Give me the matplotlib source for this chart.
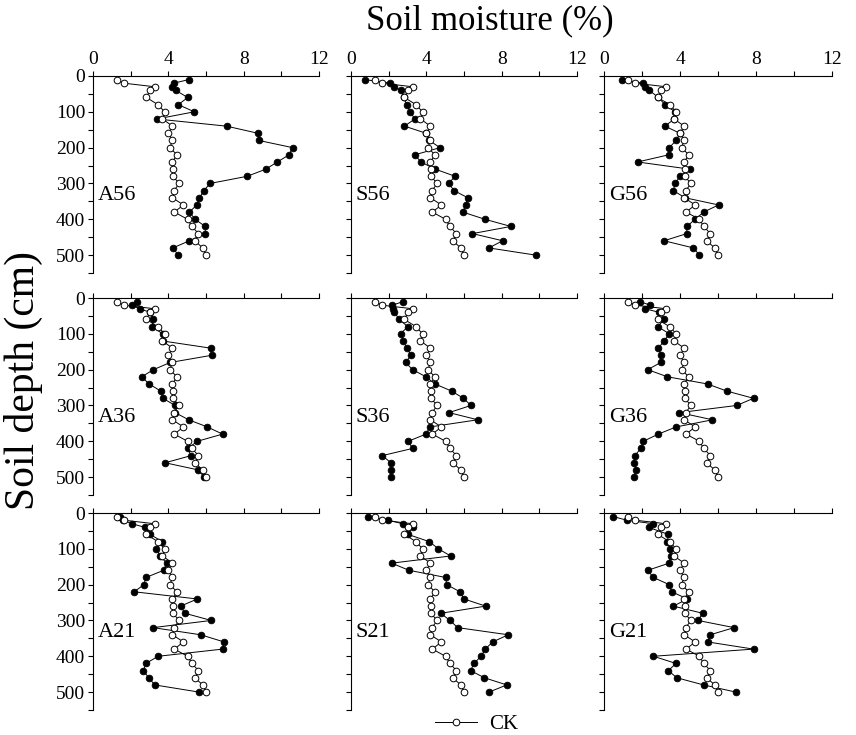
import matplotlib
matplotlib.use("Agg")
import matplotlib.pyplot as plt
from matplotlib.ticker import MultipleLocator
from matplotlib.lines import Line2D

plt.rcParams['font.family'] = ['Liberation Serif', 'DejaVu Serif']

depth = [10, 20, 30, 40, 60, 80, 100, 120, 140, 160, 180, 200, 220, 240,
         260, 280, 300, 320, 340, 360, 380, 400, 420, 440, 460, 480, 500]

ck = [1.28, 1.63, 3.27, 3.02, 2.84, 3.45, 3.80, 3.69, 4.22, 4.00, 4.22, 4.08, 4.46, 4.22,
      4.24, 4.24, 4.58, 4.30, 4.22, 4.80, 4.32, 5.02, 5.25, 5.60, 5.40, 5.83, 5.98]

a56 = [5.08, 4.30, 4.18, 4.39, 5.03, 4.53, 5.38, 3.39, 7.09, 8.77, 8.81, 10.60, 10.41, 9.79,
       9.18, 8.19, 6.21, 5.89, 5.65, 5.51, 5.12, 5.42, 5.96, 5.96, 5.12, 4.24, 4.53]
s56 = [0.74, 2.07, 2.30, 2.64, 2.80, 2.96, 3.14, 3.39, 2.84, 4.00, 4.15, 4.73, 3.39, 3.71,
       4.47, 5.53, 5.18, 5.48, 6.20, 6.08, 5.94, 7.11, 8.49, 6.45, 8.05, 7.32, 9.80]
g56 = [0.93, 2.04, 2.16, 2.39, 2.86, 3.21, 3.74, 3.70, 3.21, 4.00, 3.79, 3.44, 3.41, 1.77,
       4.50, 4.00, 3.74, 3.65, 4.27, 6.03, 5.24, 4.80, 4.36, 4.36, 3.16, 4.71, 5.02]
a36 = [2.33, 2.06, 2.47, 3.04, 3.18, 3.14, 3.70, 3.70, 6.25, 6.30, 4.10, 3.21, 2.59, 2.98,
       3.60, 3.71, 4.36, 4.36, 5.08, 6.07, 6.88, 5.54, 5.03, 5.21, 3.83, 5.59, 5.90]
s36 = [2.78, 2.19, 2.25, 2.30, 2.57, 3.01, 2.64, 2.78, 2.96, 3.19, 2.90, 3.27, 3.98, 4.46,
       5.35, 5.97, 6.37, 5.20, 6.73, 4.19, 3.98, 3.04, 3.27, 1.66, 2.12, 2.12, 2.12]
g36 = [1.90, 2.42, 2.16, 2.90, 3.16, 2.83, 3.44, 3.16, 2.86, 3.00, 2.99, 2.30, 3.34, 5.45,
       6.47, 7.87, 6.99, 3.97, 5.71, 3.79, 2.86, 2.07, 1.93, 1.63, 1.58, 1.69, 1.58]
a21 = [1.44, 1.60, 2.07, 2.75, 3.04, 3.68, 3.37, 3.56, 3.91, 3.75, 2.81, 2.70, 2.19, 5.54,
       4.65, 4.88, 6.28, 3.19, 5.72, 6.96, 6.88, 3.46, 2.81, 2.67, 2.96, 3.28, 5.63]
s21 = [0.88, 1.98, 2.74, 3.27, 3.04, 4.16, 4.64, 5.29, 2.16, 3.08, 5.03, 5.08, 5.79, 6.00,
       7.15, 4.76, 5.26, 5.66, 8.35, 7.52, 7.13, 6.90, 6.53, 6.35, 7.08, 8.27, 7.33]
g21 = [0.49, 1.19, 2.60, 2.35, 3.39, 3.34, 3.48, 3.50, 3.43, 2.30, 2.60, 3.43, 3.57, 4.39,
       3.65, 5.20, 4.94, 6.85, 5.59, 5.46, 7.87, 2.60, 3.79, 3.39, 3.83, 5.24, 6.94]

panel_names = [["A56", "S56", "G56"], ["A36", "S36", "G36"], ["A21", "S21", "G21"]]
panel_data = [[a56, s56, g56], [a36, s36, g36], [a21, s21, g21]]

W, H = 856, 735
fig = plt.figure(figsize=(W / 100, H / 100), dpi=100)

col_l = [93, 351, 604]
col_r = [319, 577, 832]
row_t = [76, 298, 513]
ax_h = 197

for r in range(3):
    for c in range(3):
        l = col_l[c]; w = col_r[c] - col_l[c]
        t = row_t[r]
        ax = fig.add_axes([l / W, 1 - (t + ax_h) / H, w / W, ax_h / H])
        vals = panel_data[r][c]
        ax.plot(vals, depth, '-', color='black', lw=0.7, marker='o', ms=4.8,
                mfc='black', mec='black', mew=0.6, zorder=2)
        ax.plot(ck, depth, '-', color='black', lw=0.7, marker='o', ms=4.8,
                mfc='white', mec='black', mew=0.7, zorder=3)
        ax.set_xlim(0, 12)
        ax.set_ylim(550, 0)
        ax.spines['right'].set_visible(False)
        ax.spines['bottom'].set_visible(False)
        for s in ('top', 'left'):
            ax.spines[s].set_linewidth(0.8)
        ax.xaxis.tick_top()
        ax.set_xticks([0, 4, 8, 12])
        ax.xaxis.set_minor_locator(MultipleLocator(2))
        ax.set_yticks([0, 100, 200, 300, 400, 500])
        ax.yaxis.set_minor_locator(MultipleLocator(50))
        ax.tick_params(axis='both', which='both', direction='out', length=3.5, width=0.8)
        ax.tick_params(axis='x', which='both', top=True, bottom=False,
                       labeltop=(r == 0), labelbottom=False, labelsize=14, pad=2)
        ax.tick_params(axis='y', which='both', left=True, right=False,
                       labelleft=(c == 0), labelsize=14, pad=2)
        ax.text(0.25, 335, panel_names[r][c], fontsize=16, ha='left', va='center')

fig.text(490 / W, 1 - 21 / H, "Soil moisture (%)", fontsize=25, ha='center', va='center')
fig.text(23 / W, 1 - 381 / H, "Soil depth (cm)", fontsize=30, ha='center', va='center',
         rotation=90)

handle = Line2D([], [], color='black', lw=0.7, marker='o', ms=4.8, mfc='white',
                mec='black', mew=0.7)
fig.legend([handle], ["CK"], loc='center', bbox_to_anchor=(477 / W, 1 - 724 / H),
           frameon=False, fontsize=15, handlelength=2.0, handletextpad=0.6,
           borderpad=0, borderaxespad=0)

fig.savefig("out.png", dpi=100)
